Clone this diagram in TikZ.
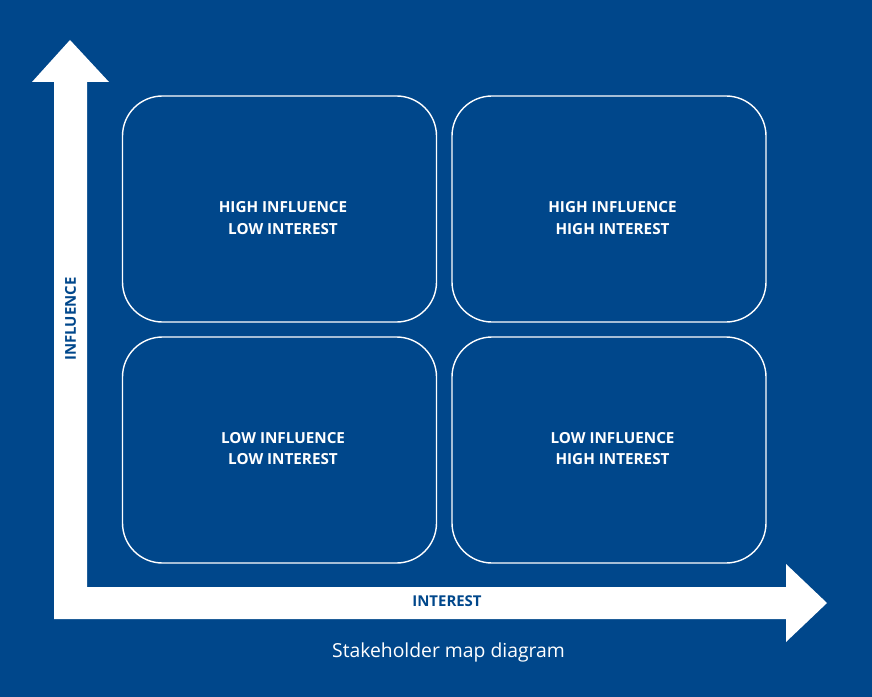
\documentclass[tikz,border=0pt]{standalone}
\usepackage{fontspec}
\setmainfont{Open Sans}
\usepackage{xcolor}
\definecolor{mapblue}{HTML}{00478B}

\begin{document}
\begin{tikzpicture}[x=1bp,y=-1bp]
% Stili
\tikzstyle{quadrant} = [
    rectangle,
    draw=white,
    line width=1.4bp,
    rounded corners=40bp,
    minimum width=314bp,
    minimum height=226bp,
    inner sep=0pt
]

\tikzstyle{quadtext} = [
    align=center,
    inner sep=0pt,
    text=white,
    font=\bfseries\fontsize{15.3}{21.5}\selectfont
]

\tikzstyle{axislabel} = [
    inner sep=0pt,
    text=mapblue,
    font=\bfseries\fontsize{15}{17}\selectfont
]

% Sfondo
\fill[mapblue] (0,0) rectangle (872,697);

% Assi
\fill[white] (70,40) -- (109,82) -- (87,82) -- (87,587) -- (786,587)
    -- (786,564) -- (827,603) -- (786,642) -- (786,619) -- (54,619)
    -- (54,82) -- (32,82) -- cycle;

% Quadranti
\node[quadrant] (hilo) at (279.5,209) {};
\node[quadrant] (hihi) at (609,209) {};
\node[quadrant] (lolo) at (279.5,450) {};
\node[quadrant] (lohi) at (609,450) {};

% Testi
\node[quadtext] (hilotext) at (283,218)
{HIGH INFLUENCE\\LOW INTEREST};

\node[quadtext] (hihitext) at (612.5,218)
{HIGH INFLUENCE\\HIGH INTEREST};

\node[quadtext] (lolotext) at (283,448.5)
{LOW INFLUENCE\\LOW INTEREST};

\node[quadtext] (lohitext) at (612.5,448.5)
{LOW INFLUENCE\\HIGH INTEREST};

\node[axislabel, rotate=90] (influence) at (70.5,319)
{INFLUENCE};

\node[axislabel] (interest) at (447,601.5)
{INTEREST};

\node[anchor=base, inner sep=0pt, text=white,
    font=\fontsize{19.4}{22}\selectfont] (caption) at (448.5,657)
{Stakeholder map diagram};

\end{tikzpicture}
\end{document}
